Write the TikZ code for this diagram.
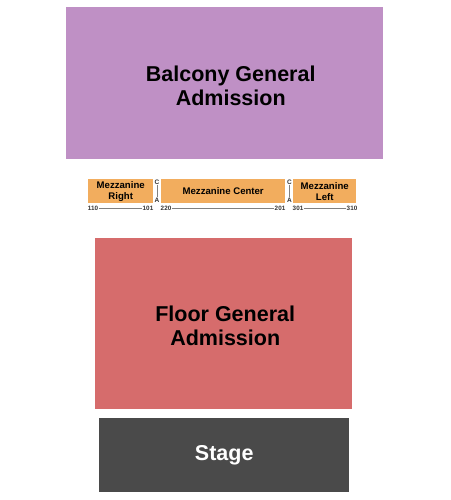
\documentclass[tikz,border=0pt]{standalone}
\usepackage{fontspec}
\setmainfont{Liberation Sans}

\definecolor{balcony}{HTML}{BF90C5}
\definecolor{mezz}{HTML}{F2AD5E}
\definecolor{floorga}{HTML}{D66C6C}
\definecolor{stagegray}{HTML}{4A4A4A}

\tikzset{
  area/.style={anchor=north west, inner sep=0pt, align=center, font=\bfseries},
  bigtext/.style={font=\bfseries\fontsize{21.5}{23.5}\selectfont, align=center, inner sep=0pt},
  mezztext/.style={font=\bfseries\fontsize{9.6}{11}\selectfont},
  rowno/.style={font=\bfseries\fontsize{6.3}{7}\selectfont, inner sep=0.5pt, text=black!80},
  aisle/.style={font=\bfseries\fontsize{6.5}{7}\selectfont, inner sep=0.3pt, text=black!80},
}

\begin{document}
\begin{tikzpicture}[x=1pt,y=-1pt]
\useasboundingbox (0,0) rectangle (450,500);

% big sections
 \node[area,fill=balcony,minimum width=317pt,minimum height=152pt] (balc) at (66,7) {};
 \node[bigtext] (balctxt) at ([xshift=6pt,yshift=-2.5pt]balc.center) {Balcony General\\Admission};
 \node[area,fill=floorga,minimum width=257pt,minimum height=171pt] (floor) at (95,238) {};
 \node[bigtext] (floortxt) at ([xshift=1.5pt,yshift=-2pt]floor.center) {Floor General\\Admission};
 \node[area,fill=stagegray,minimum width=250pt,minimum height=74pt] (stage) at (99,418) {};
 \node[bigtext,text=white] (stagetxt) at (stage.center) {Stage};

% mezzanine
 \node[area,fill=mezz,minimum width=65pt,minimum height=24pt,mezztext] (mright) at (88,179) {Mezzanine\\Right};
 \node[area,fill=mezz,minimum width=124pt,minimum height=24pt,mezztext] (mcenter) at (161,179) {Mezzanine Center};
 \node[area,fill=mezz,minimum width=63pt,minimum height=24pt,mezztext] (mleft) at (293,179) {Mezzanine\\Left};

% row letters
 \node[aisle] (c1) at (157,182) {C};
 \node[aisle] (a1) at (157,200) {A};
 \draw[gray,line width=0.6pt] (c1) -- (a1);
 \node[aisle] (c2) at (289.5,182) {C};
 \node[aisle] (a2) at (289.5,200) {A};
 \draw[gray,line width=0.6pt] (c2) -- (a2);

% seat numbers
 \node[rowno] (n110) at (93,208) {110};
 \node[rowno] (n101) at (148,208) {101};
 \draw[gray,line width=0.6pt] (n110) -- (n101);
 \node[rowno] (n220) at (166,208) {220};
 \node[rowno] (n201) at (280,208) {201};
 \draw[gray,line width=0.6pt] (n220) -- (n201);
 \node[rowno] (n301) at (298,208) {301};
 \node[rowno] (n310) at (352,208) {310};
 \draw[gray,line width=0.6pt] (n301) -- (n310);
\end{tikzpicture}
\end{document}
